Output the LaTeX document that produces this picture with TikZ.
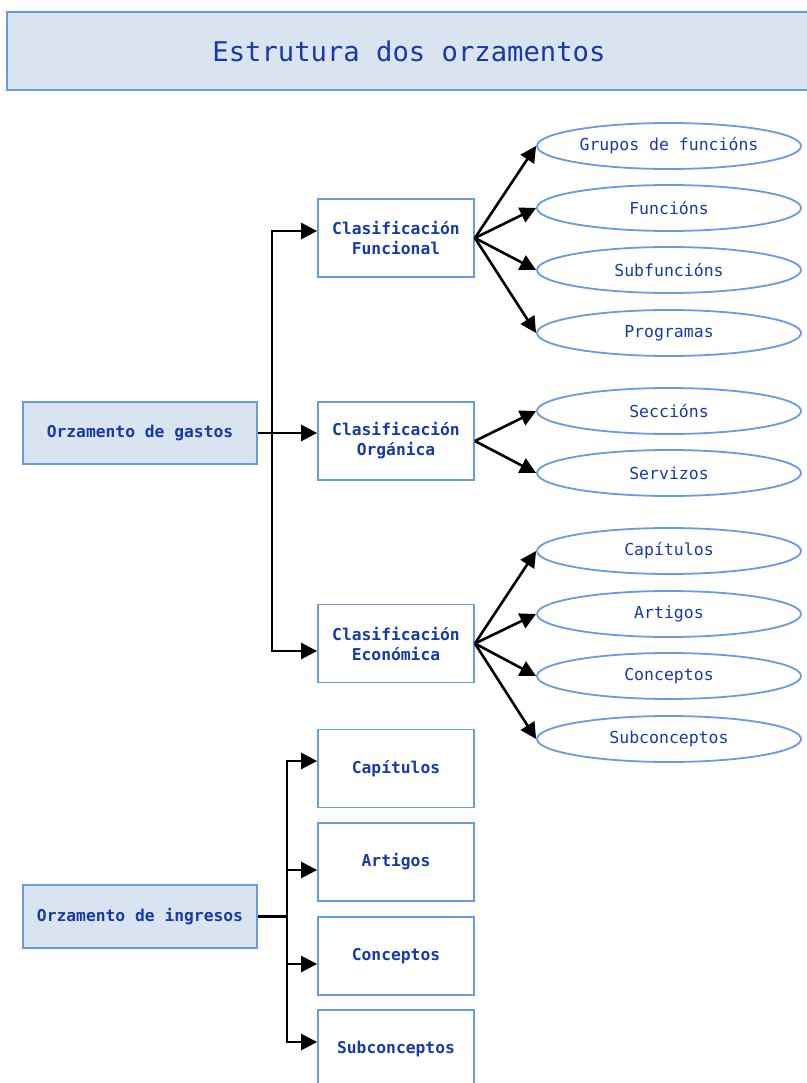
\documentclass[tikz,border=0pt]{standalone}
\usepackage{fontspec}
\setmonofont{DejaVu Sans Mono}
\usetikzlibrary{shapes.geometric,arrows.meta}
\definecolor{bfill}{HTML}{DAE4F1}
\definecolor{bline}{HTML}{6A9BDE}
\definecolor{btext}{HTML}{163BA8}
\begin{document}
\begin{tikzpicture}[x=1pt,y=-1pt,
  every node/.style={font=\ttfamily\fontsize{16.5}{20}\selectfont, text=btext, inner sep=0pt},
  rootbox/.style={draw=bline, line width=1.8pt, fill=bfill, minimum width=234pt, font=\ttfamily\bfseries\fontsize{16.3}{20}\selectfont},
  cbox/.style={draw=bline, line width=1.8pt, fill=white, minimum width=156pt, minimum height=78pt, align=center, font=\ttfamily\bfseries\fontsize{16.3}{20}\selectfont},
  oval/.style={ellipse, draw=bline, line width=1.8pt, fill=white, minimum width=264pt, minimum height=46pt},
  arr/.style={draw=black, line width=2.6pt, -{Triangle[length=16pt,width=16pt]}},
  ln/.style={draw=black, line width=2.6pt}
]
\useasboundingbox (0,0) rectangle (806,1083);
\fill[white] (0,0) rectangle (806,1083);

% title
\node[draw=bline, line width=1.8pt, fill=bfill, minimum width=804pt, minimum height=78pt,
  font=\ttfamily\fontsize{27.2}{30}\selectfont] (title) at (409,51) {Estrutura dos orzamentos};

% gastos
\node[rootbox, minimum height=62pt] (gastos) at (140,433) {Orzamento de gastos};
\node[cbox] (fun) at (396,238) {Clasificación\\Funcional};
\node[cbox] (org) at (396,441) {Clasificación\\Orgánica};
\node[cbox] (eco) at (396,643.5) {Clasificación\\Económica};

\node[oval] (g1) at (669,146) {Grupos de funcións};
\node[oval] (g2) at (669,208) {Funcións};
\node[oval] (g3) at (669,270) {Subfuncións};
\node[oval] (g4) at (669,333) {Programas};
\node[oval] (o1) at (669,411) {Seccións};
\node[oval] (o2) at (669,473) {Servizos};
\node[oval] (e1) at (669,551) {Capítulos};
\node[oval] (e2) at (669,614) {Artigos};
\node[oval] (e3) at (669,676) {Conceptos};
\node[oval] (e4) at (669,739) {Subconceptos};

\coordinate (gj) at (272,433);
\draw[ln] (gastos.east) -- (gj);
\draw[arr] (gj) |- ([yshift=7pt]fun.west);
\draw[arr] (gj) -- ([yshift=8pt]org.west);
\draw[arr] (gj) |- ([yshift=-7.5pt]eco.west);

\foreach \t in {g1,g2,g3,g4} \draw[arr] (fun.east) -- (\t.west);
\foreach \t in {o1,o2} \draw[arr] (org.east) -- (\t.west);
\foreach \t in {e1,e2,e3,e4} \draw[arr] (eco.east) -- (\t.west);

% ingresos
\node[rootbox, minimum height=63pt] (ingresos) at (140,916.5) {Orzamento de ingresos};
\node[cbox] (i1) at (396,768.5) {Capítulos};
\node[cbox] (i2) at (396,862) {Artigos};
\node[cbox] (i3) at (396,956) {Conceptos};
\node[cbox] (i4) at (396,1049) {Subconceptos};

\coordinate (ij) at (287,916.5);
\draw[ln] (ingresos.east) -- (ij);
\draw[arr] (ij) |- ([yshift=7.5pt]i1.west);
\draw[arr] (ij) |- ([yshift=-8pt]i2.west);
\draw[arr] (ij) |- ([yshift=-8pt]i3.west);
\draw[arr] (ij) |- ([yshift=7pt]i4.west);
\end{tikzpicture}
\end{document}
